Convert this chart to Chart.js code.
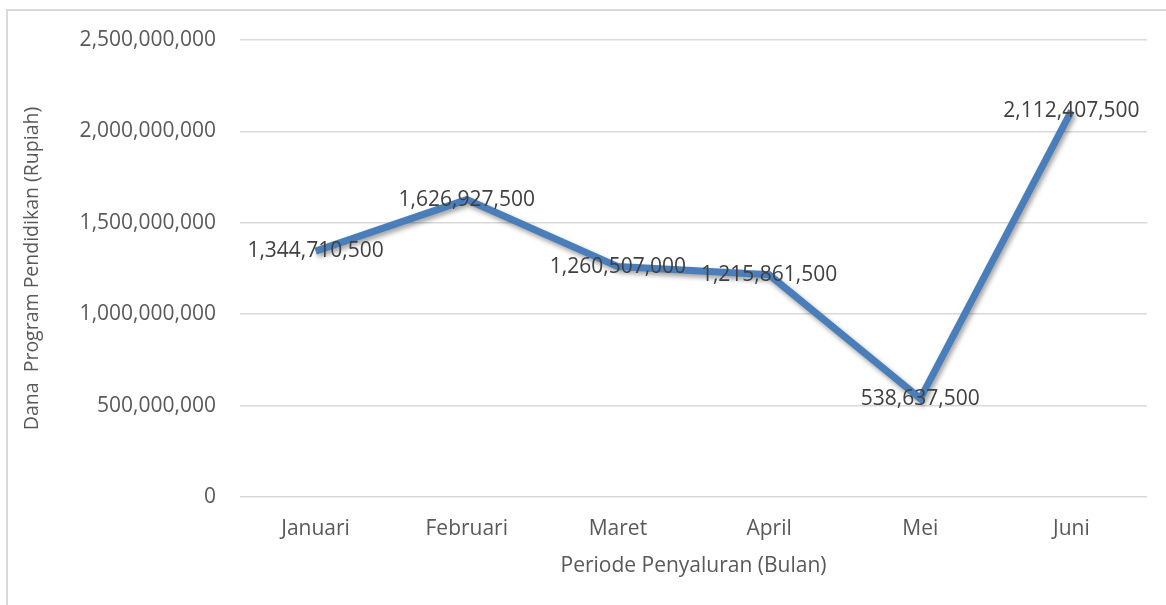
<!DOCTYPE html>
<html>
<head>
<meta charset="utf-8">
<script src="https://cdn.jsdelivr.net/npm/chart.js@4/dist/chart.umd.min.js"></script>
<style>
  html, body { margin: 0; padding: 0; background: #ffffff; }
  #wrap { position: relative; width: 1166px; height: 605px; }
</style>
</head>
<body>
<div id="wrap"><canvas id="c" width="1166" height="605"></canvas></div>
<script>
const categories = ["Januari", "Februari", "Maret", "April", "Mei", "Juni"];
const danaValues = [1344710500, 1626927500, 1260507000, 1215861500, 538637500, 2112407500];
const yTicks = [0, 500000000, 1000000000, 1500000000, 2000000000, 2500000000];
const yTitle = "Dana  Program Pendidikan (Rupiah)";
const xTitle = "Periode Penyaluran (Bulan)";

const FONT = "'Open Sans', 'Noto Sans', sans-serif";
const fmt = v => v.toLocaleString('en-US');

const framePlugin = {
  id: 'frame',
  beforeDraw(chart) {
    const ctx = chart.ctx;
    ctx.save();
    ctx.fillStyle = '#ffffff';
    ctx.fillRect(0, 0, chart.width, chart.height);
    ctx.strokeStyle = '#d9d9d9';
    ctx.lineWidth = 2;
    ctx.beginPath();
    ctx.moveTo(7, chart.height);
    ctx.lineTo(7, 10);
    ctx.lineTo(chart.width, 10);
    ctx.stroke();
    ctx.restore();
  }
};

const shadowPlugin = {
  id: 'lineShadow',
  beforeDatasetDraw(chart) {
    const ctx = chart.ctx;
    ctx.save();
    ctx.shadowColor = 'rgba(0,0,0,0.38)';
    ctx.shadowBlur = 5;
    ctx.shadowOffsetX = 2;
    ctx.shadowOffsetY = 3;
  },
  afterDatasetDraw(chart) {
    chart.ctx.restore();
  }
};

const labelPlugin = {
  id: 'valueLabels',
  afterDatasetsDraw(chart) {
    const ctx = chart.ctx;
    const meta = chart.getDatasetMeta(0);
    ctx.save();
    ctx.font = "21px " + FONT;
    ctx.fillStyle = '#404040';
    ctx.textAlign = 'center';
    ctx.textBaseline = 'middle';
    meta.data.forEach((pt, i) => {
      ctx.fillText(fmt(chart.data.datasets[0].data[i]), pt.x, pt.y);
    });
    ctx.restore();
  }
};

new Chart(document.getElementById('c'), {
  type: 'line',
  data: {
    labels: categories,
    datasets: [{
      data: danaValues,
      borderColor: '#4A7EBB',
      borderWidth: 7,
      pointRadius: 0,
      pointHoverRadius: 0,
      tension: 0,
      fill: false,
      borderJoinStyle: 'miter',
      borderCapStyle: 'butt'
    }]
  },
  options: {
    responsive: false,
    animation: false,
    devicePixelRatio: 1,
    events: [],
    layout: { padding: { left: 17, top: 40, right: 19, bottom: 0 } },
    plugins: { legend: { display: false }, tooltip: { enabled: false } },
    scales: {
      x: {
        offset: true,
        grid: { display: false, drawTicks: false },
        border: { display: false },
        ticks: { color: '#595959', font: { family: FONT, size: 21 }, padding: 19, maxRotation: 0 },
        title: { display: true, text: xTitle, color: '#595959', font: { family: FONT, size: 21 }, padding: { top: 4, bottom: 26 } },
        afterFit(s) { s.height = 108; }
      },
      y: {
        min: 0,
        max: 2500000000,
        afterBuildTicks(s) { s.ticks = yTicks.map(v => ({ value: v })); },
        grid: { color: '#d9d9d9', lineWidth: 1.5, drawTicks: false },
        border: { display: false },
        ticks: { color: '#595959', font: { family: FONT, size: 21 }, padding: 24, callback: v => fmt(v) },
        title: { display: true, text: yTitle, color: '#595959', font: { family: FONT, size: 19.5 }, padding: { top: 4, bottom: 4 } },
        afterFit(s) { s.width = 223; }
      }
    }
  },
  plugins: [framePlugin, shadowPlugin, labelPlugin]
});
</script>
</body>
</html>
